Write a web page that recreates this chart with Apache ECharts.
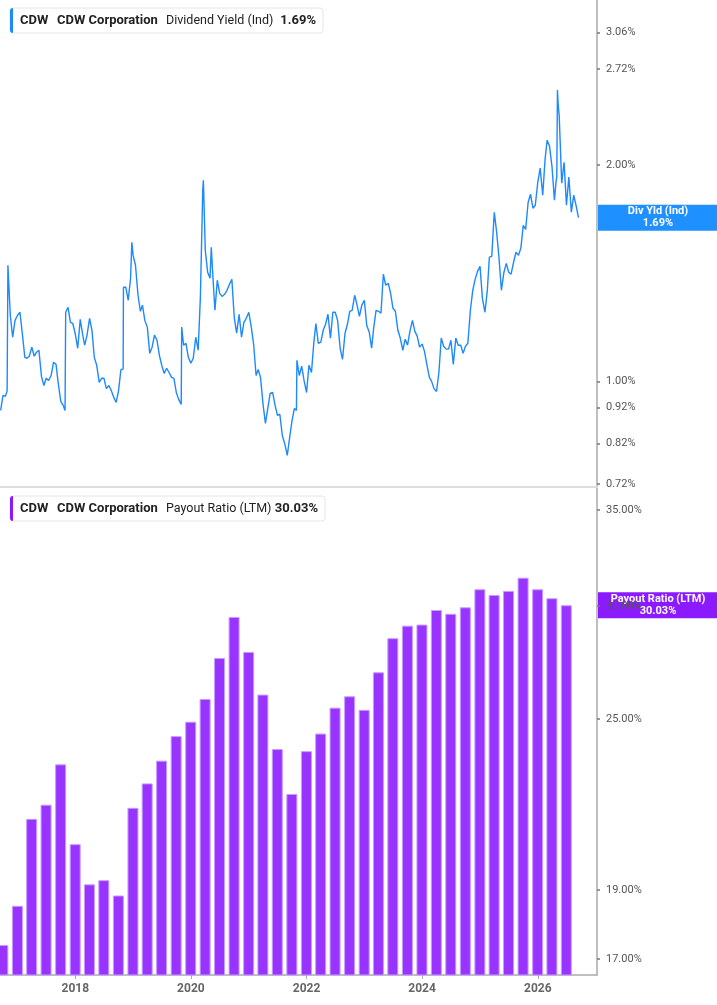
<!DOCTYPE html>
<html>
<head>
<meta charset="utf-8">
<script src="https://cdn.jsdelivr.net/npm/echarts@6/dist/echarts.min.js"></script>
<style>
html, body { margin: 0; padding: 0; background: #fff; }
#chart { width: 717px; height: 1005px; }
</style>
</head>
<body>
<div id="chart"></div>
<script>
// dividend yield (Ind), %, roughly twice a month
var yieldDates = [
  '2016-09-16','2016-10-01','2016-10-16','2016-10-27','2016-11-01','2016-11-16','2016-12-01','2016-12-16',
  '2017-01-01','2017-01-16','2017-02-01','2017-02-16','2017-03-01','2017-03-16','2017-04-01','2017-04-16',
  '2017-05-01','2017-05-16','2017-06-01','2017-06-16','2017-07-01','2017-07-16','2017-08-01','2017-08-16',
  '2017-09-01','2017-09-16','2017-10-01','2017-10-16','2017-10-28','2017-11-01','2017-11-16','2017-12-01','2017-12-16',
  '2018-01-01','2018-01-16','2018-02-01','2018-02-16','2018-03-01','2018-03-16','2018-04-01','2018-04-16',
  '2018-05-01','2018-05-16','2018-06-01','2018-06-16','2018-07-01','2018-07-16','2018-08-01','2018-08-16',
  '2018-09-01','2018-09-16','2018-10-01','2018-10-16','2018-10-30','2018-11-01','2018-11-16','2018-12-01','2018-12-16','2018-12-24',
  '2019-01-01','2019-01-16','2019-02-01','2019-02-16','2019-03-01','2019-03-16','2019-04-01','2019-04-16',
  '2019-05-01','2019-05-16','2019-06-01','2019-06-16','2019-07-01','2019-07-16','2019-08-01','2019-08-16',
  '2019-09-01','2019-09-16','2019-10-01','2019-10-16','2019-11-01','2019-11-04','2019-11-16','2019-12-01','2019-12-16',
  '2020-01-01','2020-01-16','2020-02-01','2020-02-16','2020-03-01','2020-03-16','2020-03-20','2020-04-01','2020-04-16',
  '2020-05-01','2020-05-09','2020-05-16','2020-06-01','2020-06-16','2020-07-01','2020-07-16','2020-08-01','2020-08-16',
  '2020-09-01','2020-09-16','2020-10-01','2020-10-16','2020-11-01','2020-11-16','2020-12-01','2020-12-16',
  '2021-01-01','2021-01-16','2021-02-01','2021-02-16','2021-03-01','2021-03-16','2021-04-01','2021-04-16',
  '2021-05-01','2021-05-16','2021-06-01','2021-06-16','2021-07-01','2021-07-16','2021-08-01','2021-08-16',
  '2021-09-01','2021-09-16','2021-10-01','2021-10-16','2021-10-29','2021-11-01','2021-11-16','2021-12-01','2021-12-16',
  '2022-01-01','2022-01-16','2022-02-01','2022-02-16','2022-03-01','2022-03-16','2022-04-01','2022-04-16',
  '2022-05-01','2022-05-16','2022-06-01','2022-06-16','2022-07-01','2022-07-16','2022-08-01','2022-08-16',
  '2022-09-01','2022-09-16','2022-10-01','2022-10-16','2022-11-01','2022-11-16','2022-12-01','2022-12-16',
  '2023-01-01','2023-01-16','2023-02-01','2023-02-16','2023-03-01','2023-03-16','2023-04-01','2023-04-16',
  '2023-05-01','2023-05-16','2023-06-01','2023-06-16','2023-07-01','2023-07-16','2023-08-01','2023-08-16',
  '2023-09-01','2023-09-16','2023-10-01','2023-10-16','2023-11-01','2023-11-16','2023-12-01','2023-12-16',
  '2024-01-01','2024-01-16','2024-02-01','2024-02-16','2024-03-01','2024-03-16','2024-04-01','2024-04-16',
  '2024-05-01','2024-05-16','2024-06-01','2024-06-16','2024-07-01','2024-07-16','2024-08-01','2024-08-16',
  '2024-09-01','2024-09-16','2024-10-01','2024-10-16','2024-11-01','2024-11-16','2024-12-01','2024-12-16',
  '2025-01-01','2025-01-16','2025-02-01','2025-02-16','2025-03-01','2025-03-16','2025-04-01','2025-04-16',
  '2025-05-01','2025-05-16','2025-06-01','2025-06-16','2025-07-01','2025-07-16','2025-08-01','2025-08-16',
  '2025-09-01','2025-09-16','2025-10-01','2025-10-16','2025-11-01','2025-11-16','2025-12-01','2025-12-16',
  '2026-01-01','2026-01-16','2026-02-01','2026-02-16','2026-03-01','2026-03-16','2026-04-01','2026-04-16',
  '2026-04-26','2026-05-01','2026-05-05','2026-05-10','2026-05-16','2026-06-01','2026-06-16','2026-07-01',
  '2026-07-16','2026-08-01','2026-08-16','2026-09-01','2026-09-15'
];
var yieldValues = [
  0.911,0.956,0.953,0.970,1.451,1.236,1.152,1.216,
  1.236,1.248,1.160,1.080,1.077,1.084,1.116,1.084,
  1.098,1.105,1.016,0.987,1.010,1.003,1.019,1.063,
  1.056,0.990,0.938,0.926,0.911,1.248,1.268,1.208,1.204,
  1.163,1.112,1.220,1.163,1.123,1.160,1.224,1.178,
  1.080,1.053,0.997,1.010,1.010,0.977,0.987,0.971,
  0.950,0.935,0.971,1.039,1.040,1.352,1.352,1.297,1.392,1.562,
  1.498,1.451,1.318,1.252,1.277,1.216,1.189,1.094,
  1.116,1.160,1.141,1.087,1.053,1.026,1.043,1.029,
  1.013,1.010,0.965,0.944,0.929,1.190,1.123,1.130,1.080,
  1.060,1.077,1.152,1.105,1.309,1.846,1.906,1.523,1.419,
  1.392,1.537,1.437,1.256,1.383,1.326,1.313,1.322,1.339,
  1.365,1.387,1.228,1.167,1.240,1.152,1.208,1.224,
  1.248,1.193,1.123,1.019,1.039,1.013,0.929,0.874,
  0.917,0.962,0.965,0.926,0.897,0.900,0.840,0.819,
  0.789,0.835,0.882,0.917,0.911,1.070,1.019,1.050,1.003,
  0.965,1.053,1.029,1.134,1.204,1.130,1.134,1.178,
  1.201,1.240,1.149,1.248,1.248,1.216,1.112,1.073,
  1.167,1.201,1.252,1.256,1.318,1.277,1.232,1.277,
  1.297,1.197,1.171,1.112,1.186,1.256,1.252,1.244,
  1.410,1.361,1.370,1.326,1.264,1.252,1.178,1.149,
  1.105,1.145,1.123,1.174,1.216,1.174,1.156,1.116,
  1.127,1.101,1.053,1.013,1.000,0.977,0.968,1.029,
  1.149,1.119,1.109,1.109,1.141,1.056,1.149,1.123,
  1.123,1.094,1.119,1.130,1.256,1.339,1.387,1.423,
  1.446,1.305,1.248,1.339,1.489,1.493,1.720,1.613,
  1.484,1.339,1.419,1.460,1.419,1.410,1.465,1.513,
  1.498,1.533,1.649,1.628,1.776,1.822,1.742,1.759,
  1.894,1.981,1.817,2.039,2.167,2.126,1.987,1.788,
  1.894,1.930,2.544,2.425,2.348,1.888,2.019,1.759,
  1.925,1.720,1.817,1.753,1.690
];

// payout ratio (LTM), %, one bar per quarter end
var payoutDates = [
  '2016-09-30','2016-12-31',
  '2017-03-31','2017-06-30','2017-09-30','2017-12-31',
  '2018-03-31','2018-06-30','2018-09-30','2018-12-31',
  '2019-03-31','2019-06-30','2019-09-30','2019-12-31',
  '2020-03-31','2020-06-30','2020-09-30','2020-12-31',
  '2021-03-31','2021-06-30','2021-09-30','2021-12-31',
  '2022-03-31','2022-06-30','2022-09-30','2022-12-31',
  '2023-03-31','2023-06-30','2023-09-30','2023-12-31',
  '2024-03-31','2024-06-30','2024-09-30','2024-12-31',
  '2025-03-31','2025-06-30','2025-09-30','2025-12-31',
  '2026-03-31','2026-06-30'
];
var payoutValues = [
  17.39, 18.52,
  21.30, 21.79, 23.25, 20.45,
  19.17, 19.30, 18.83, 21.68,
  22.55, 23.39, 24.33, 24.90,
  25.83, 27.59, 29.47, 27.86,
  26.01, 23.83, 22.17, 23.75,
  24.43, 25.47, 25.94, 25.38,
  26.96, 28.48, 29.06, 29.11,
  29.80, 29.62, 29.93, 30.81,
  30.53, 30.73, 31.39, 30.81,
  30.37, 30.03
];

var yieldTicks = [0.72, 0.82, 0.92, 1.00, 2.00, 2.72, 3.06];
var payoutTicks = [17, 19, 25, 30, 35];
var yearTicks = [2018, 2020, 2022, 2024, 2026];

var BLUE = '#1e88ff';
var PURPLE = '#9933ff';

var chart = echarts.init(document.getElementById('chart'), null, { renderer: 'canvas' });

// dates -> local timestamps, x axes are plain value axes in ms
function ts(s) {
    var p = s.split('-');
    return +new Date(+p[0], +p[1] - 1, +p[2]);
}
// both value axes are log scaled: plot ln(value) on a linear axis
var ln = Math.log;
var pctLabel = function (v) { return Math.exp(v).toFixed(2) + '%'; };
var yearVals = yearTicks.map(function (y) { return +new Date(y, 0, 1); });
var xMin = ts('2016-09-12');
var xMax = ts('2027-01-10');

function valueAxis(grid, lo, hi, ticks) {
    var vals = ticks.map(ln);
    return {
        type: 'value', gridIndex: grid, position: 'right',
        min: ln(lo), max: ln(hi),
        axisLine: { show: true, lineStyle: { color: '#aaaaaa', width: 1.5 } },
        axisTick: { show: true, customValues: vals, length: 3, lineStyle: { color: '#777', width: 1.5 } },
        axisLabel: { customValues: vals, formatter: pctLabel, color: '#555', fontSize: 11,
            fontFamily: 'Roboto', margin: 9 },
        splitLine: { show: false }
    };
}

var option = {
    animation: false,
    backgroundColor: '#fff',
    grid: [
        { left: 0, right: 120, top: 0, height: 487 },
        { left: 0, right: 120, top: 488, height: 487 }
    ],
    xAxis: [
        {
            type: 'value', gridIndex: 0, min: xMin, max: xMax,
            axisLine: { show: true, onZero: false, lineStyle: { color: '#dddddd', width: 2 } },
            axisTick: { show: false }, axisLabel: { show: false }, splitLine: { show: false }
        },
        {
            type: 'value', gridIndex: 1, min: xMin, max: xMax,
            axisLine: { show: true, onZero: false, lineStyle: { color: '#aaaaaa', width: 1.5 } },
            axisTick: { show: true, customValues: yearVals, length: 4, lineStyle: { color: '#aaaaaa' } },
            axisLabel: {
                customValues: yearVals,
                formatter: function (v) { return String(new Date(v).getFullYear()); },
                color: '#666', fontWeight: 'bold', fontSize: 12, fontFamily: 'Roboto', margin: 8
            },
            splitLine: { show: false }
        }
    ],
    yAxis: [
        valueAxis(0, 0.7128, 3.396, yieldTicks),
        valueAxis(1, 16.57, 36.26, payoutTicks)
    ],
    series: [
        {
            name: 'Dividend Yield (Ind)', type: 'line', xAxisIndex: 0, yAxisIndex: 0,
            data: yieldDates.map(function (d, i) { return [ts(d), ln(yieldValues[i])]; }),
            showSymbol: false, symbol: 'none',
            lineStyle: { color: BLUE, width: 1.4 }
        },
        {
            name: 'Payout Ratio (LTM)', type: 'bar', xAxisIndex: 1, yAxisIndex: 1,
            data: payoutDates.map(function (d, i) { return [ts(d), ln(payoutValues[i])]; }),
            barWidth: 11, clip: true,
            itemStyle: { color: PURPLE, borderColor: '#c69cff', borderWidth: 1 }
        }
    ]
};
chart.setOption(option);

// legend boxes and the last-value badges on the right axis
var lastYield = yieldValues[yieldValues.length - 1];
var lastPayout = payoutValues[payoutValues.length - 1];
var yA = chart.convertToPixel({ yAxisIndex: 0 }, ln(lastYield));
var yB = chart.convertToPixel({ yAxisIndex: 1 }, ln(lastPayout));

function legendBox(top, color, metric, value, width) {
    return {
        type: 'group', x: 10, y: top,
        children: [
            { type: 'rect', shape: { x: 0, y: 0, width: width, height: 25, r: 3 },
              style: { fill: '#fff', stroke: '#e6e6e6', lineWidth: 1 } },
            { type: 'rect', shape: { x: 0, y: 0, width: 3, height: 25, r: [3, 0, 0, 3] },
              style: { fill: color } },
            { type: 'text', x: 10, y: 12.5, style: { text: 'CDW', font: 'bold 13px Roboto', fill: '#222', verticalAlign: 'middle' } },
            { type: 'text', x: 47, y: 12.5, style: { text: 'CDW Corporation', font: 'bold 13px Roboto', fill: '#222', verticalAlign: 'middle' } },
            { type: 'text', x: 156, y: 12.5, style: { text: metric, font: 'normal 12.5px Roboto', fill: '#222', verticalAlign: 'middle' } },
            { type: 'text', x: width - 7, y: 12.5, style: { text: value, font: 'bold 13px Roboto', fill: '#222', align: 'right', verticalAlign: 'middle' } }
        ]
    };
}

function badge(y, color, label, value) {
    return {
        type: 'group', x: 598, y: y - 13, z: 100,
        children: [
            { type: 'rect', shape: { x: 0, y: 0, width: 119, height: 26 }, style: { fill: color } },
            { type: 'text', x: 60, y: 13, style: {
                text: label + '\n' + value, align: 'center', verticalAlign: 'middle',
                font: 'bold 11px Roboto', lineHeight: 12, fill: '#fff' } }
        ]
    };
}

chart.setOption({
    graphic: [
        legendBox(8, BLUE, 'Dividend Yield (Ind)', lastYield.toFixed(2) + '%', 313),
        legendBox(496, '#8c1aff', 'Payout Ratio (LTM)', lastPayout.toFixed(2) + '%', 315),
        badge(yA, '#1e90ff', 'Div Yld (Ind)', lastYield.toFixed(2) + '%'),
        badge(yB, '#8c1aff', 'Payout Ratio (LTM)', lastPayout.toFixed(2) + '%')
    ]
});
</script>
</body>
</html>
